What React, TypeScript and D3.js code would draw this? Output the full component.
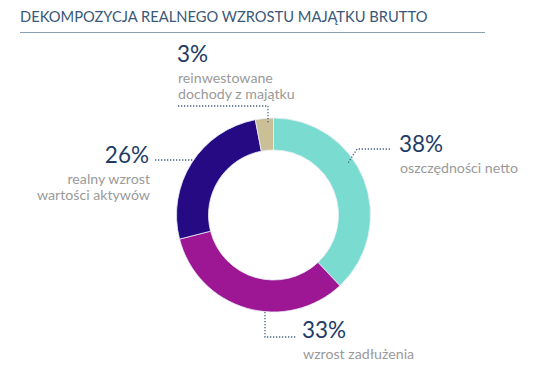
import React from "react";
import * as d3 from "d3";

const categories = ["oszczędności netto", "wzrost zadłużenia", "realny wzrost wartości aktywów", "reinwestowane dochody z majątku"];
const values = [38, 33, 26, 3];
const colors = ["#7adcd1", "#9d1794", "#250a84", "#cbbf98"];
const title = "DEKOMPOZYCJA REALNEGO WZROSTU MAJĄTKU BRUTTO";

const W = 540, H = 376;
const cx = 273.5, cy = 215, rOuter = 97, rInner = 65;

export default function App() {
  const pie = d3.pie<number>().sort(null).value((d) => d)(values);
  const arc = d3.arc<d3.PieArcDatum<number>>().innerRadius(rInner).outerRadius(rOuter);
  const font = "Lato, 'Open Sans', sans-serif";
  const numColor = "#1f3c68";
  const txtColor = "#9a9a9a";
  const lf = 14.2;
  const dot = { stroke: "#4a6282", strokeWidth: 1.3, strokeDasharray: "1.3 1.7", fill: "none" };
  return (
    <svg width={W} height={H} style={{ position: "absolute", left: 0, top: 0 }} fontFamily={font}>
      <rect width={W} height={H} fill="#fff" />
      <text x={20} y={22} fontSize={14.7} fill="#3a5878">{title}</text>
      <line x1={20} x2={485} y1={32.5} y2={32.5} stroke="#8a9fb4" strokeWidth={1} />
      <g transform={`translate(${cx},${cy})`}>
        {pie.map((p, i) => (
          <path key={i} d={arc(p) || ""} fill={colors[i]} stroke="#e8eef8" strokeWidth={0.8} />
        ))}
      </g>
      {/* leaders */}
      <path d="M178,106 H268 V123" {...dot} />
      <path d="M155,160 H193" {...dot} />
      <path d="M390,149 H357 L348,163" {...dot} />
      <path d="M265,312 V337 H297" {...dot} />
      {/* 3% */}
      <text x={177} y={62} fontSize={22.5} fill={numColor}>{values[3]}%</text>
      <text x={178} y={83} fontSize={lf} fill={txtColor}>reinwestowane</text>
      <text x={178} y={99} fontSize={lf} fill={txtColor}>dochody z majątku</text>
      {/* 26% */}
      <text x={149} y={163} fontSize={22.5} fill={numColor} textAnchor="end">{values[2]}%</text>
      <text x={150} y={184} fontSize={lf} fill={txtColor} textAnchor="end">realny wzrost</text>
      <text x={150} y={200} fontSize={lf} fill={txtColor} textAnchor="end">wartości aktywów</text>
      {/* 38% */}
      <text x={399} y={152} fontSize={22.5} fill={numColor}>{values[0]}%</text>
      <text x={400} y={173} fontSize={lf} fill={txtColor}>{categories[0]}</text>
      {/* 33% */}
      <text x={302} y={338} fontSize={22.5} fill={numColor}>{values[1]}%</text>
      <text x={303} y={359} fontSize={lf} fill={txtColor}>{categories[1]}</text>
    </svg>
  );
}
